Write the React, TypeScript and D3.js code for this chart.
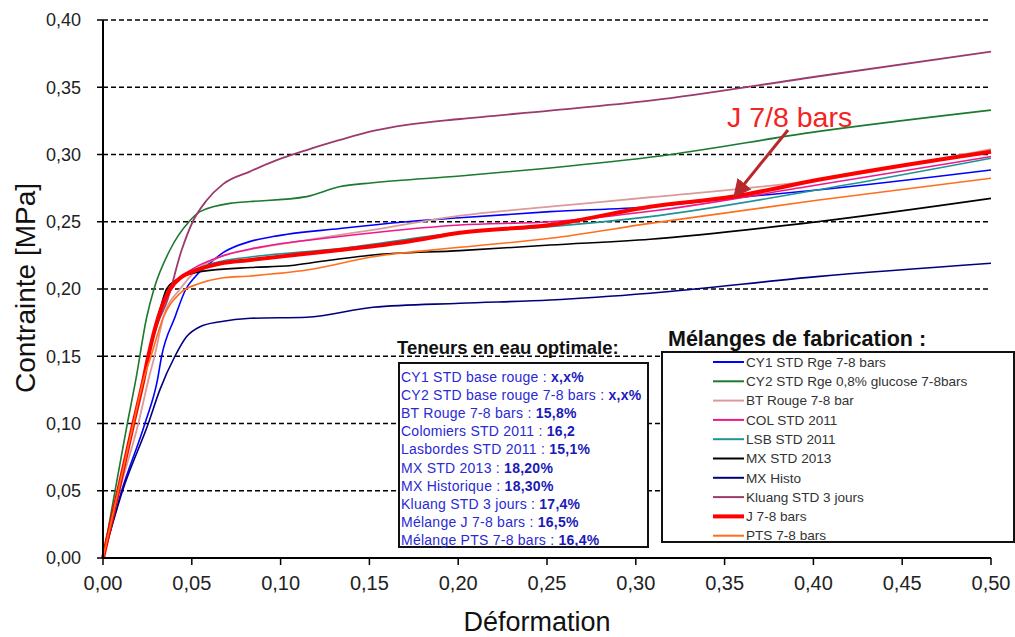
import React from "react";
import * as d3 from "d3";

type Pt = [number, number];

const xTicks = [0, 0.05, 0.1, 0.15, 0.2, 0.25, 0.3, 0.35, 0.4, 0.45, 0.5];
const yTicks = [0, 0.05, 0.1, 0.15, 0.2, 0.25, 0.3, 0.35, 0.4];

const cy1: Pt[] = [[0,0],[0.0105,0.05],[0.0236,0.10],[0.0306,0.132],[0.033,0.15],[0.0405,0.179],[0.0467,0.20],[0.0518,0.209],[0.060,0.219],[0.0676,0.227],[0.083,0.2354],[0.0957,0.239],[0.1334,0.245],[0.171,0.250],[0.201,0.253],[0.2517,0.2575],[0.308,0.2612],[0.355,0.2677],[0.402,0.2736],[0.5,0.2885]];
const cy2: Pt[] = [[0,0],[0.0068,0.05],[0.0137,0.10],[0.0184,0.132],[0.0246,0.179],[0.0287,0.20],[0.0377,0.229],[0.0484,0.25],[0.0546,0.2575],[0.073,0.264],[0.083,0.265],[0.1147,0.2687],[0.133,0.276],[0.152,0.279],[0.201,0.284],[0.2517,0.290],[0.3136,0.2989],[0.402,0.317],[0.5,0.333]];
const btRouge: Pt[] = [[0,0],[0.0093,0.05],[0.0199,0.10],[0.0255,0.132],[0.029,0.15],[0.034,0.179],[0.0434,0.20],[0.0527,0.214],[0.066,0.224],[0.083,0.2295],[0.1147,0.2364],[0.152,0.2439],[0.201,0.2545],[0.2517,0.2612],[0.308,0.2682],[0.402,0.281],[0.5,0.3039]];
const col: Pt[] = [[0,0],[0.0086,0.05],[0.0171,0.10],[0.0227,0.132],[0.0255,0.15],[0.031,0.179],[0.0387,0.20],[0.0443,0.209],[0.0527,0.2166],[0.066,0.224],[0.083,0.2297],[0.1334,0.239],[0.201,0.2476],[0.2517,0.250],[0.3136,0.2587],[0.402,0.2773],[0.5,0.2984]];
const lsb: Pt[] = [[0,0],[0.0086,0.05],[0.0171,0.10],[0.0227,0.132],[0.0255,0.15],[0.0311,0.179],[0.0377,0.20],[0.0443,0.209],[0.0527,0.215],[0.066,0.2205],[0.083,0.2238],[0.1334,0.230],[0.201,0.2419],[0.2517,0.2464],[0.308,0.2538],[0.402,0.2736],[0.5,0.2972]];
const mxStd: Pt[] = [[0,0],[0.0086,0.05],[0.0171,0.10],[0.0227,0.132],[0.0255,0.15],[0.031,0.179],[0.0358,0.20],[0.0415,0.207],[0.0546,0.2129],[0.083,0.216],[0.105,0.2173],[0.1147,0.219],[0.152,0.2253],[0.201,0.2285],[0.2517,0.2327],[0.308,0.237],[0.402,0.250],[0.5,0.2674]];
const mxHisto: Pt[] = [[0,0],[0.011,0.05],[0.0255,0.10],[0.032,0.125],[0.0405,0.15],[0.047,0.1645],[0.0546,0.172],[0.066,0.1757],[0.083,0.1782],[0.1147,0.179],[0.152,0.1864],[0.201,0.1894],[0.2517,0.1918],[0.308,0.1968],[0.402,0.2092],[0.5,0.2191]];
const kluang: Pt[] = [[0,0],[0.0086,0.05],[0.0171,0.10],[0.0227,0.132],[0.0255,0.15],[0.031,0.175],[0.0358,0.19],[0.0443,0.229],[0.0505,0.25],[0.0584,0.266],[0.0676,0.278],[0.083,0.2875],[0.0957,0.2947],[0.1147,0.3033],[0.1334,0.3108],[0.152,0.3175],[0.171,0.322],[0.201,0.3264],[0.2517,0.3326],[0.308,0.340],[0.402,0.358],[0.5,0.3765]];
const j78: Pt[] = [[0,0],[0.0086,0.05],[0.0171,0.10],[0.0227,0.132],[0.0255,0.15],[0.0311,0.179],[0.0377,0.20],[0.0443,0.209],[0.0527,0.214],[0.066,0.219],[0.083,0.2216],[0.1334,0.229],[0.171,0.2352],[0.201,0.2419],[0.2517,0.2476],[0.308,0.2612],[0.355,0.2687],[0.402,0.281],[0.5,0.3021]];
const pts: Pt[] = [[0,0],[0.0086,0.05],[0.0171,0.10],[0.0227,0.132],[0.027,0.15],[0.034,0.179],[0.0434,0.1968],[0.0546,0.2042],[0.066,0.208],[0.083,0.2097],[0.1147,0.2141],[0.152,0.224],[0.201,0.231],[0.2517,0.2377],[0.308,0.2488],[0.402,0.266],[0.5,0.2823]];

const seriesNames = ["CY1 STD Rge 7-8 bars","CY2 STD Rge 0,8% glucose 7-8bars","BT Rouge 7-8 bar","COL STD 2011","LSB STD 2011","MX STD 2013","MX Histo","Kluang STD 3 jours","J 7-8 bars","PTS 7-8 bars"];
const seriesData: Pt[][] = [cy1, cy2, btRouge, col, lsb, mxStd, mxHisto, kluang, j78, pts];
const seriesColors = ["#0000FF","#1B7A2E","#DC9A9A","#F0168C","#1E9494","#000000","#00007F","#9C3A6E","#FF0000","#FF6E1A"];
const seriesWidths = [1.6,1.6,1.8,1.6,1.6,1.6,1.6,1.8,4,1.6];

const teneurLabels = ["CY1 STD base rouge : ","CY2 STD base rouge 7-8 bars : ","BT Rouge 7-8 bars : ","Colomiers STD 2011 : ","Lasbordes STD 2011 : ","MX STD 2013 : ","MX Historique : ","Kluang STD 3 jours : ","Mélange J 7-8 bars : ","Mélange PTS 7-8 bars : "];
const teneurValues = ["x,x%","x,x%","15,8%","16,2","15,1%","18,20%","18,30%","17,4%","16,5%","16,4%"];

const fmt = (v: number) => v.toFixed(2).replace(".", ",");

export default function App() {
  const x = d3.scaleLinear().domain([0, 0.5]).range([103, 991]);
  const y = d3.scaleLinear().domain([0, 0.4]).range([558, 20]);
  const line = d3.line<Pt>().x(d => x(d[0])).y(d => y(d[1])).curve(d3.curveMonotoneX);
  const font = "'Liberation Sans', Arial, sans-serif";

  return (
    <svg width={1015} height={637} style={{ position: "absolute", left: 0, top: 0, background: "#fff" }} fontFamily={font}>
      {yTicks.filter(t => t > 0).map(t => (
        <line key={"g" + t} x1={x(0)} x2={x(0.5)} y1={y(t)} y2={y(t)} stroke="#000" strokeWidth={1.6} strokeDasharray="5,3" />
      ))}
      {seriesData.map((d, i) => (
        <path key={"s" + i} d={line(d) || ""} fill="none" stroke={seriesColors[i]} strokeWidth={seriesWidths[i]} strokeLinejoin="round" />
      ))}
      <line x1={x(0)} x2={x(0)} y1={y(0.4)} y2={y(0) + 1} stroke="#000" strokeWidth={2} />
      <line x1={x(0) - 1} x2={x(0.5)} y1={y(0)} y2={y(0)} stroke="#000" strokeWidth={2} />
      {yTicks.map(t => (
        <g key={"yt" + t}>
          <line x1={x(0) - 6} x2={x(0)} y1={y(t)} y2={y(t)} stroke="#000" strokeWidth={1.5} />
          <text x={81} y={y(t)} dy="0.35em" textAnchor="end" fontSize={18} fill="#222">{fmt(t)}</text>
        </g>
      ))}
      {xTicks.map(t => (
        <g key={"xt" + t}>
          <line x1={x(t)} x2={x(t)} y1={y(0)} y2={y(0) + 7} stroke="#000" strokeWidth={1.5} />
          <text x={x(t)} y={590} textAnchor="middle" fontSize={20} fill="#222">{fmt(t)}</text>
        </g>
      ))}
      <text transform="translate(35,288) rotate(-90)" textAnchor="middle" fontSize={28} fill="#111">Contrainte [MPa]</text>
      <text x={537} y={631} textAnchor="middle" fontSize={27} fill="#111">Déformation</text>

      <defs>
        <marker id="arrowhead" markerWidth={6} markerHeight={6} refX={4} refY={3} orient="auto" markerUnits="strokeWidth">
          <path d="M0,0 L6,3 L0,6 Z" fill="#B8282D" />
        </marker>
      </defs>
      <text x={727} y={127} fontSize={28.5} fill="#F22424">J 7/8 bars</text>
      <line x1={788} y1={130} x2={737} y2={193} stroke="#B8282D" strokeWidth={3} markerEnd="url(#arrowhead)" />

      <text x={397} y={354} fontSize={18.5} fontWeight="bold" fill="#111">Teneurs en eau optimale:</text>
      <rect x={399} y={363} width={249} height={184} fill="#fff" stroke="#111" strokeWidth={2} />
      {teneurLabels.map((lab, i) => (
        <text key={"tn" + i} x={401} y={382 + i * 18.1} fontSize={14} letterSpacing={0.25} fill="#2A2AD6">
          {lab}<tspan fontWeight="bold" fill="#1A1AB8">{teneurValues[i]}</tspan>
        </text>
      ))}

      <text x={668} y={346} fontSize={21.5} fontWeight="bold" fill="#111">Mélanges de fabrication :</text>
      <rect x={662} y={352} width={352} height={190} fill="#fff" stroke="#111" strokeWidth={2} />
      {seriesNames.map((n, i) => (
        <g key={"lg" + i}>
          <line x1={713} x2={744} y1={362 + i * 19.3} y2={362 + i * 19.3} stroke={seriesColors[i]} strokeWidth={i === 8 ? 4 : 2} />
          <text x={746} y={362 + i * 19.3} dy="0.35em" fontSize={13.6} fill="#333">{n}</text>
        </g>
      ))}
    </svg>
  );
}
